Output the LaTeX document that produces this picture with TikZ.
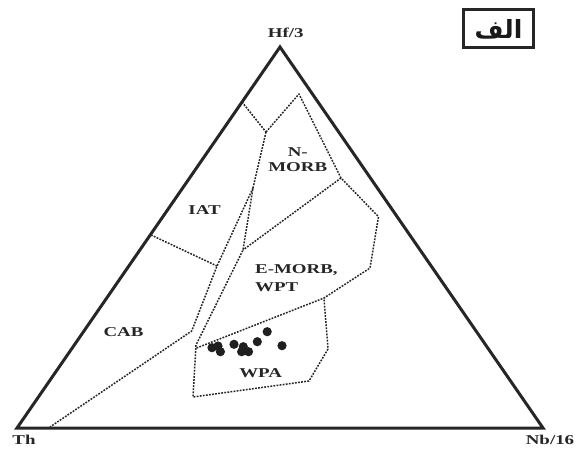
\documentclass[tikz,border=0pt]{standalone}
\usepackage{fontspec}
\setmainfont{Liberation Serif}
\newfontfamily\lbl[FakeStretch=1.4]{Liberation Serif}
\newfontfamily\arabicfont[Script=Arabic]{DejaVu Sans}
\TeXXeTstate=1
\begin{document}
\begin{tikzpicture}[x=1pt,y=-1pt,
  side/.style={line width=3pt, draw=black!85, line join=miter},
  fieldline/.style={draw=black!85, line width=1.5pt, dash pattern=on 1.8pt off 1.3pt, line join=round},
  lab/.style={font=\lbl\bfseries\fontsize{13.5}{15}\selectfont, text=black!85, inner sep=0pt},
  dot/.style={circle, fill=black!88, inner sep=0pt, minimum size=9.2pt},
  tagbox/.style={draw=black!85, line width=2.5pt, minimum width=70pt, minimum height=38pt, inner sep=0pt}
]
\fill[white] (0,0) rectangle (578,450);
\useasboundingbox (0,0) rectangle (578,450);
% triangle corners
\coordinate (Th) at (17,428);
\coordinate (Nb) at (543,428);
\coordinate (Hf) at (280,47);
% field vertices
\coordinate (iatA) at (242,102);
\coordinate (J) at (266,132);
\coordinate (nTop) at (299,94);
\coordinate (nR) at (341,178);
\coordinate (eR1) at (378.5,216.7);
\coordinate (eR2) at (370,268);
\coordinate (wTR) at (324,298);
\coordinate (S) at (253,188);
\coordinate (eL1) at (243,250);
\coordinate (eL2) at (196,345);
\coordinate (wL) at (196.6,348);
\coordinate (wBL) at (193,397);
\coordinate (wBR) at (309,381);
\coordinate (wR) at (328,349);
\coordinate (iatB) at (151,235);
\coordinate (iatC) at (217,266);
\coordinate (cabC) at (191.7,331);
\coordinate (cabA) at (50,427);
% fields
\draw[fieldline] (iatA) -- (J);
\draw[fieldline] (J) -- (nTop) -- (nR) -- (eR1) -- (eR2) -- (wTR) -- (wL);
\draw[fieldline] (nR) -- (eL1);
\draw[fieldline] (J) -- (S) -- (eL1) -- (eL2) -- (wBL) -- (wBR) -- (wR) -- (wTR);
\draw[fieldline] (S) -- (iatC) -- (cabC) -- (cabA);
\draw[fieldline] (iatB) -- (iatC);
% triangle
\draw[side] (Th) -- (Nb) -- (Hf) -- cycle;
% labels
\node[lab] (lHf) at (285.7,33.3) {Hf/3};
\node[lab] (lTh) at (24,440) {Th};
\node[lab] (lNb) at (550,440) {Nb/16};
\node[lab] (lN1) at (297.8,151.7) {N-};
\node[lab] (lN2) at (297.8,166.7) {MORB};
\node[lab] (lIAT) at (204.6,210) {IAT};
\node[lab, anchor=west] (lE1) at (255,270) {E-MORB,};
\node[lab, anchor=west] (lE2) at (255,286.7) {WPT};
\node[lab] (lCAB) at (123.5,331.7) {CAB};
\node[lab] (lWPA) at (260.6,373.3) {WPA};
% samples
\node[dot] (d1) at (267.2,331.7) {};
\node[dot] (d2) at (257.3,341.7) {};
\node[dot] (d3) at (282,345.7) {};
\node[dot] (d4) at (234,344.3) {};
\node[dot] (d5) at (243.3,346.7) {};
\node[dot] (d6) at (248.5,351.7) {};
\node[dot] (d7) at (241.6,351.7) {};
\node[dot] (d8) at (218,346) {};
\node[dot] (d9) at (212,347.7) {};
\node[dot] (d10) at (220.4,351.7) {};
% tag
\node[tagbox] (tag) at (498.5,28.3) {};
\node[font=\arabicfont\bfseries\fontsize{25}{27}\selectfont, text=black!90, inner sep=0pt] (tagtxt) at ([yshift=-1pt]tag.center) {\beginR الف\endR};
\end{tikzpicture}
\end{document}
